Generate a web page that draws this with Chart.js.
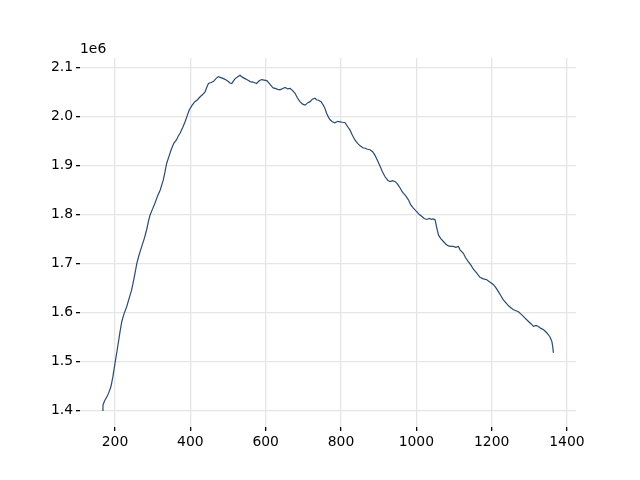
<!DOCTYPE html>
<html>
<head>
<meta charset="utf-8">
<script src="https://cdn.jsdelivr.net/npm/chart.js@4/dist/chart.umd.min.js"></script>
<style>
  html, body { margin: 0; padding: 0; background: #fff; }
  #chart { display: block; }
</style>
</head>
<body>
<canvas id="chart" width="640" height="480"></canvas>
<script>
// Data (y in millions, offset label "1e6")
const xs = [166, 168, 172, 178, 183, 189, 194, 200, 207, 213, 218, 224, 231, 237, 244, 251, 258, 264, 271, 278,
  284, 289, 293, 300, 306, 313, 320, 328, 333, 337, 343, 349, 356, 363, 368, 373, 380, 386, 392, 397,
  404, 412, 419, 426, 432, 439, 444, 448, 455, 461, 468, 474, 481, 488, 495, 501, 505, 510, 515, 519,
  526, 532, 538, 545, 552, 559, 566, 576, 582, 589, 596, 603, 610, 616, 620, 625, 632, 638, 645, 652,
  658, 665, 671, 678, 684, 691, 698, 705, 712, 718, 724, 731, 735, 740, 747, 753, 758, 762, 767, 771,
  777, 784, 791, 798, 804, 811, 817, 824, 830, 837, 844, 851, 858, 864, 870, 877, 884, 890, 897, 904,
  910, 917, 924, 930, 937, 944, 948, 952, 957, 962, 966, 972, 979, 985, 992, 1001, 1008, 1015, 1021, 1028,
  1035, 1040, 1045, 1050, 1054, 1059, 1065, 1072, 1078, 1085, 1092, 1098, 1105, 1112, 1116, 1125, 1130, 1138, 1145, 1152,
  1160, 1169, 1178, 1187, 1196, 1205, 1212, 1218, 1225, 1231, 1238, 1245, 1251, 1258, 1265, 1271, 1278, 1285, 1291, 1298,
  1305, 1311, 1318, 1324, 1331, 1338, 1345, 1351, 1356, 1360, 1362, 1364];

const ys = [1.401, 1.412, 1.420, 1.428, 1.436, 1.449, 1.468, 1.497, 1.530, 1.560, 1.582, 1.598, 1.612, 1.628, 1.646, 1.672, 1.701, 1.718, 1.735, 1.752,
  1.769, 1.787, 1.799, 1.812, 1.823, 1.838, 1.850, 1.870, 1.888, 1.904, 1.918, 1.932, 1.945, 1.952, 1.960, 1.966, 1.978, 1.989, 2.002, 2.013,
  2.022, 2.030, 2.034, 2.040, 2.044, 2.050, 2.060, 2.067, 2.069, 2.071, 2.077, 2.081, 2.079, 2.077, 2.074, 2.071, 2.068, 2.067, 2.073, 2.077,
  2.081, 2.084, 2.080, 2.077, 2.074, 2.071, 2.070, 2.067, 2.072, 2.075, 2.074, 2.073, 2.067, 2.061, 2.058, 2.057, 2.055, 2.054, 2.057, 2.059,
  2.056, 2.057, 2.053, 2.047, 2.038, 2.030, 2.025, 2.023, 2.028, 2.030, 2.035, 2.037, 2.034, 2.033, 2.030, 2.023, 2.015, 2.006, 1.998, 1.993,
  1.989, 1.987, 1.990, 1.989, 1.988, 1.987, 1.980, 1.972, 1.962, 1.952, 1.945, 1.940, 1.936, 1.935, 1.933, 1.932, 1.928, 1.921, 1.910, 1.898,
  1.887, 1.877, 1.870, 1.867, 1.869, 1.867, 1.864, 1.860, 1.854, 1.847, 1.843, 1.838, 1.830, 1.820, 1.813, 1.806, 1.800, 1.796, 1.792, 1.790,
  1.792, 1.790, 1.791, 1.789, 1.774, 1.758, 1.751, 1.745, 1.740, 1.736, 1.735, 1.735, 1.733, 1.735, 1.728, 1.721, 1.713, 1.704, 1.697, 1.688,
  1.681, 1.672, 1.669, 1.667, 1.662, 1.657, 1.650, 1.643, 1.634, 1.626, 1.620, 1.614, 1.610, 1.606, 1.604, 1.602, 1.597, 1.592, 1.587, 1.582,
  1.577, 1.572, 1.574, 1.572, 1.568, 1.565, 1.560, 1.555, 1.549, 1.541, 1.532, 1.518];

const xTicks = [200, 400, 600, 800, 1000, 1200, 1400];
const yTicks = [1.4, 1.5, 1.6, 1.7, 1.8, 1.9, 2.0, 2.1];
const offsetLabel = '1e6';

(function () {
  const canvas = document.getElementById('chart');
  if (!canvas || typeof Chart === 'undefined') return;

  const font = { family: 'DejaVu Sans', size: 13.9 };
  const gridColor = '#e5e5e5';

  // matplotlib-style offset text above the y axis
  const offsetText = {
    id: 'offsetText',
    afterDraw(chart) {
      const ctx = chart.ctx;
      ctx.save();
      ctx.font = '13.9px "DejaVu Sans"';
      ctx.fillStyle = '#000';
      ctx.textAlign = 'left';
      ctx.textBaseline = 'alphabetic';
      ctx.fillText(offsetLabel, chart.chartArea.left, 53);
      ctx.restore();
    }
  };

  new Chart(canvas.getContext('2d'), {
    type: 'line',
    data: {
      datasets: [{
        data: xs.map((x, i) => ({ x, y: ys[i] })),
        borderColor: '#2b4a70',
        borderWidth: 1.2,
        pointRadius: 0,
        tension: 0,
        fill: false
      }]
    },
    options: {
      responsive: false,
      animation: false,
      layout: { padding: { left: 0, right: 64, top: 58, bottom: 0 } },
      plugins: { legend: { display: false }, tooltip: { enabled: false } },
      scales: {
        x: {
          type: 'linear',
          min: 107,
          max: 1424,
          afterBuildTicks: (s) => { s.ticks = xTicks.map(v => ({ value: v })); },
          afterFit: (s) => { s.height = 53; },
          border: { display: false },
          grid: { color: gridColor, lineWidth: 1.3, tickColor: '#000', tickLength: 4 },
          ticks: { color: '#000', font, padding: 3, maxRotation: 0, autoSkip: false, callback: (v) => String(v) }
        },
        y: {
          min: 1.367,
          max: 2.119,
          afterBuildTicks: (s) => { s.ticks = yTicks.map(v => ({ value: v })); },
          afterFit: (s) => { s.width = 80; },
          border: { display: false },
          grid: { color: gridColor, lineWidth: 1.3, tickColor: '#000', tickLength: 4 },
          ticks: { color: '#000', font, padding: 3, callback: (v) => v.toFixed(1) }
        }
      }
    },
    plugins: [offsetText]
  });
})();
</script>
</body>
</html>
